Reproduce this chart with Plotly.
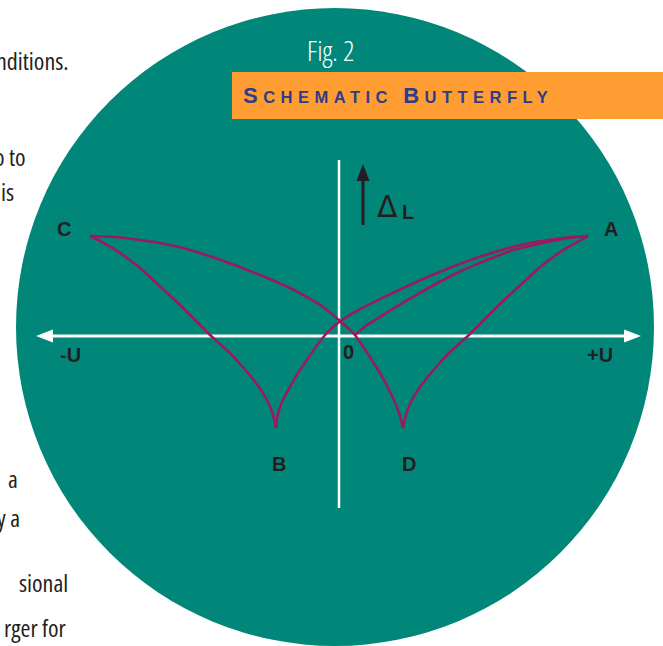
import plotly.graph_objects as go

# ---------------- data (normalised: U / U_max, dL / dL_max) ----------------
# initial (virgin) curve: origin -> A
init_u = [0.064, 0.112, 0.165, 0.229, 0.297, 0.365, 0.434, 0.498, 0.566, 0.635, 0.699, 0.767, 0.835, 0.900, 0.952, 1.000]
init_l = [0.000, 0.101, 0.182, 0.283, 0.384, 0.485, 0.576, 0.657, 0.727, 0.798, 0.859, 0.899, 0.939, 0.970, 0.990, 1.000]

# A -> B (field decreasing)
ab_u = [1.000, 0.900, 0.767, 0.667, 0.566, 0.466, 0.365, 0.297, 0.233, 0.165, 0.096, 0.044, 0.004, -0.028, -0.056,
        -0.092, -0.129, -0.165, -0.197, -0.221, -0.237, -0.249, -0.253]
ab_l = [1.000, 0.980, 0.929, 0.869, 0.790, 0.699, 0.596, 0.520, 0.445, 0.363, 0.277, 0.203, 0.137, 0.071, 0.000,
        -0.116, -0.253, -0.384, -0.525, -0.636, -0.727, -0.838, -0.939]

# B -> C
bc_u = [-0.253, -0.265, -0.285, -0.313, -0.349, -0.390, -0.434, -0.478, -0.518, -0.562, -0.606, -0.655, -0.703,
        -0.751, -0.799, -0.851, -0.904, -0.952, -1.000]
bc_l = [-0.939, -0.808, -0.677, -0.556, -0.434, -0.313, -0.192, -0.091, 0.000, 0.111, 0.222, 0.343, 0.455,
        0.566, 0.677, 0.778, 0.869, 0.939, 1.000]

# C -> D (field increasing)
cd_u = [-1.000, -0.900, -0.799, -0.699, -0.598, -0.498, -0.398, -0.297, -0.197, -0.116, -0.064, -0.024, 0.004, 0.036,
        0.064, 0.092, 0.124, 0.157, 0.185, 0.209, 0.229, 0.245, 0.257]
cd_l = [1.000, 0.990, 0.960, 0.919, 0.859, 0.778, 0.687, 0.586, 0.475, 0.364, 0.283, 0.202, 0.141, 0.071,
        0.000, -0.101, -0.222, -0.354, -0.475, -0.596, -0.707, -0.818, -0.939]

# D -> A
da_u = [0.257, 0.269, 0.289, 0.317, 0.353, 0.394, 0.438, 0.482, 0.522, 0.566, 0.610, 0.659, 0.707,
        0.755, 0.803, 0.855, 0.908, 0.956, 1.000]
da_l = [-0.939, -0.808, -0.677, -0.556, -0.434, -0.313, -0.192, -0.091, 0.000, 0.111, 0.222, 0.343, 0.455,
        0.566, 0.677, 0.778, 0.869, 0.939, 1.000]

point_names = ["A", "B", "C", "D"]
axis_labels = ["-U", "+U", "0"]

# ---------------- layout helpers ----------------
W, H = 663, 646
OX, OY = 339, 335      # pixel position of the origin
SX, SY = 249, 99       # pixels per unit


def fx(px):
    return px / W


def fy(py):
    return 1 - py / H


TEAL = "#00877A"
ORANGE = "#FF9D33"
CRIMSON = "#9C1A5C"
NAVY = "#2E3C8C"
INK = "#231F20"
WHITE = "#FFFFFF"

fig = go.Figure()

for u, l in [(init_u, init_l), (ab_u, ab_l), (bc_u, bc_l), (cd_u, cd_l), (da_u, da_l)]:
    fig.add_trace(go.Scatter(x=u, y=l, mode="lines",
                             line=dict(color=CRIMSON, width=2.6, shape="spline", smoothing=0.4),
                             hoverinfo="skip", showlegend=False))

shapes = []
# big teal disc
shapes.append(dict(type="circle", xref="paper", yref="paper", x0=fx(16), x1=fx(654), y0=fy(646), y1=fy(8),
                   fillcolor=TEAL, line=dict(width=0), layer="below"))
# orange title band
shapes.append(dict(type="rect", xref="paper", yref="paper", x0=fx(232), x1=fx(670), y0=fy(119), y1=fy(72),
                   fillcolor=ORANGE, line=dict(width=0), layer="below"))
# horizontal axis
shapes.append(dict(type="line", xref="paper", yref="paper", x0=fx(50), x1=fx(627), y0=fy(336), y1=fy(336),
                   line=dict(color=WHITE, width=3), layer="below"))
# vertical axis
shapes.append(dict(type="line", xref="paper", yref="paper", x0=fx(OX), x1=fx(OX), y0=fy(160), y1=fy(508),
                   line=dict(color=WHITE, width=2.5), layer="below"))


def tri(p1, p2, p3, color):
    path = "M {} {} L {} {} L {} {} Z".format(fx(p1[0]), fy(p1[1]), fx(p2[0]), fy(p2[1]), fx(p3[0]), fy(p3[1]))
    return dict(type="path", xref="paper", yref="paper", path=path, fillcolor=color, line=dict(width=0), layer="below")


shapes.append(tri((641, 336), (624, 329.5), (624, 342.5), WHITE))
shapes.append(tri((36, 336), (53, 329.5), (53, 342.5), WHITE))
# delta-L arrow
shapes.append(dict(type="line", xref="paper", yref="paper", x0=fx(363), x1=fx(363), y0=fy(225), y1=fy(178),
                   line=dict(color=INK, width=3)))
shapes.append(tri((363, 164), (356.5, 181), (369.5, 181), INK))

ann = []
LAB = dict(family="Liberation Sans, Arial, sans-serif", size=20, color=INK, weight="bold")


def label(text, px, py, font=LAB, xanchor="center"):
    ann.append(dict(text=text, x=fx(px), y=fy(py), xref="paper", yref="paper", showarrow=False,
                    xanchor=xanchor, yanchor="middle", font=font))


for name, (px, py) in zip(point_names, [(611, 229), (279, 464), (64, 229), (409, 464)]):
    label(name, px, py)
for name, (px, py) in zip(axis_labels, [(70, 355), (600, 355), (348, 352)]):
    label(name, px, py)

label("Δ", 387, 207, font=dict(family="DejaVu Sans, sans-serif", size=30, color=INK))
label("L", 408, 212, font=LAB)

# figure caption
COND = "Open Sans, Roboto, sans-serif"


def cond(t):
    return "<span style='font-stretch:75%'>" + t + "</span>"


label(cond("Fig. 2"), 330, 50, font=dict(family=COND, size=28, color=WHITE, weight=300))

title_html = ("<span style='letter-spacing:5.5px'><span style='font-size:22px'>S</span>CHEMATIC "
              "<span style='font-size:22px'>B</span>UTTERFLY</span>")
ann.append(dict(text=title_html, x=fx(241), y=fy(96), xref="paper", yref="paper", showarrow=False,
                xanchor="left", yanchor="middle",
                font=dict(family="Liberation Sans, Arial, sans-serif", size=16.5, color=NAVY, weight="bold")))

# fragments of the surrounding article text (cut at the page edge)
BODY = dict(family=COND, size=24, color=INK, weight=400)
for txt, (px, py) in zip(["nditions.", "o to", "is", "a", "y a", "sional", "rger for"],
                         [(71, 61), (28, 156), (16, 191), (20, 478), (22, 517), (70, 582), (68, 627)]):
    label(cond(txt), px, py, font=BODY, xanchor="right")

fig.update_layout(
    width=W, height=H,
    margin=dict(l=0, r=0, t=0, b=0),
    paper_bgcolor=WHITE, plot_bgcolor=WHITE,
    shapes=shapes, annotations=ann,
    xaxis=dict(range=[(0 - OX) / SX, (W - OX) / SX], visible=False, fixedrange=True),
    yaxis=dict(range=[(OY - H) / SY, OY / SY], visible=False, fixedrange=True),
    showlegend=False,
)

fig.write_html("out.html", config={"displayModeBar": False},
               post_script="document.body.style.margin='0px';document.body.style.overflow='hidden';")
